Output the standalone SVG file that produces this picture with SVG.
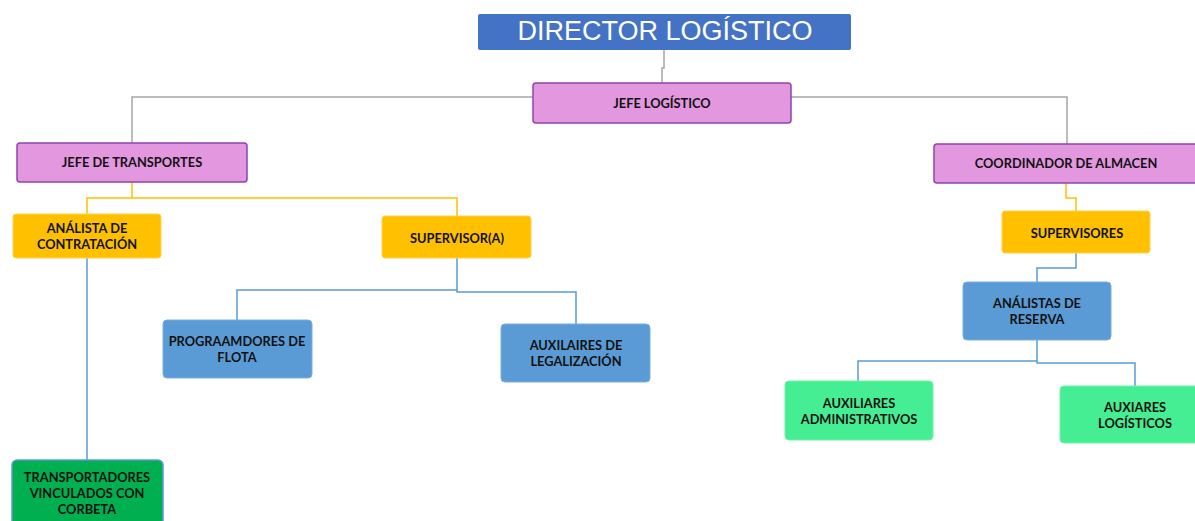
<svg xmlns="http://www.w3.org/2000/svg" width="1195" height="521" viewBox="0 0 1195 521">
<style>
.lbl{font-family:Lato,"Open Sans","Liberation Sans",sans-serif;font-weight:bold;font-size:12.8px;fill:#111;text-anchor:middle}
.pink{fill:#E397DF;stroke:#8E44AD;stroke-width:1.5}
.yel{fill:#FFC000;stroke:#FFD24D;stroke-width:1}
.blu{fill:#5B9BD5;stroke:#7AAEDD;stroke-width:1}
.lg{fill:#45EE93;stroke:#6FF2AA;stroke-width:1}
.c-gray{fill:none;stroke:#A6A6A6;stroke-width:1.5}
.c-yel{fill:none;stroke:#FFC000;stroke-width:1.5}
.c-blu{fill:none;stroke:#5B9BD5;stroke-width:1.5}
</style>
<rect width="1195" height="521" fill="#fff"/>
<g id="connectors">
<path class="c-gray" d="M664 50 V68 H662 V83"/>
<path class="c-gray" d="M132 143 V97 H1067 V144"/>
<path class="c-yel" d="M132 182 V198 M87 214 V198 H457 V216"/>
<path class="c-blu" d="M87 258 V460"/>
<path class="c-blu" d="M457 258 V290 H237 V320 M457 290 V292 H576 V324"/>
<path class="c-yel" d="M1066 183 V198 H1076 V211"/>
<path class="c-blu" d="M1076 253 V268 H1037 V282"/>
<path class="c-blu" d="M1037 340 V361 H858 V381 M1037 361 V363 H1135 V386"/>
</g>
<g id="director">
<rect x="478" y="14" width="373" height="36" rx="2" fill="#4472C4"/>
<text x="665" y="40" font-family="'Liberation Sans',Arial,sans-serif" font-size="27" fill="#fff" text-anchor="middle">DIRECTOR LOGÍSTICO</text>
</g>
<g id="jefe-logistico">
<rect class="pink" x="533" y="83" width="258" height="40" rx="3"/>
<text class="lbl" x="662" y="108">JEFE LOGÍSTICO</text>
</g>
<g id="jefe-transportes">
<rect class="pink" x="17" y="143" width="230" height="39" rx="3"/>
<text class="lbl" x="132" y="167">JEFE DE TRANSPORTES</text>
</g>
<g id="coordinador-almacen">
<rect class="pink" x="934" y="144" width="265" height="39" rx="3"/>
<text class="lbl" x="1066" y="168">COORDINADOR DE ALMACEN</text>
</g>
<g id="analista-contratacion">
<rect class="yel" x="13" y="214" width="148" height="44" rx="3"/>
<text class="lbl" x="87" y="233">ANÁLISTA DE</text>
<text class="lbl" x="87" y="249">CONTRATACIÓN</text>
</g>
<g id="supervisor">
<rect class="yel" x="382" y="216" width="149" height="42" rx="3"/>
<text class="lbl" x="457" y="243">SUPERVISOR(A)</text>
</g>
<g id="supervisores">
<rect class="yel" x="1002" y="211" width="148" height="42" rx="3"/>
<text class="lbl" x="1077" y="238">SUPERVISORES</text>
</g>
<g id="transportadores">
<rect x="12" y="460" width="151" height="66" rx="5" fill="#00B050" stroke="#5B9BD5" stroke-width="1.5"/>
<text class="lbl" x="87" y="482">TRANSPORTADORES</text>
<text class="lbl" x="87" y="498">VINCULADOS CON</text>
<text class="lbl" x="87" y="514">CORBETA</text>
</g>
<g id="programadores">
<rect class="blu" x="163" y="320" width="149" height="58" rx="4"/>
<text class="lbl" x="237" y="346">PROGRAAMDORES DE</text>
<text class="lbl" x="237" y="362">FLOTA</text>
</g>
<g id="auxilaires-legalizacion">
<rect class="blu" x="501" y="324" width="149" height="58" rx="4"/>
<text class="lbl" x="576" y="350">AUXILAIRES DE</text>
<text class="lbl" x="576" y="366">LEGALIZACIÓN</text>
</g>
<g id="analistas-reserva">
<rect class="blu" x="963" y="282" width="148" height="58" rx="4"/>
<text class="lbl" x="1037" y="308">ANÁLISTAS DE</text>
<text class="lbl" x="1037" y="324">RESERVA</text>
</g>
<g id="auxiliares-administrativos">
<rect class="lg" x="785" y="381" width="148" height="59" rx="4"/>
<text class="lbl" x="859" y="408">AUXILIARES</text>
<text class="lbl" x="859" y="424">ADMINISTRATIVOS</text>
</g>
<g id="auxiares-logisticos">
<rect class="lg" x="1060" y="386" width="140" height="57" rx="4"/>
<text class="lbl" x="1135" y="412">AUXIARES</text>
<text class="lbl" x="1135" y="428">LOGÍSTICOS</text>
</g>
</svg>
